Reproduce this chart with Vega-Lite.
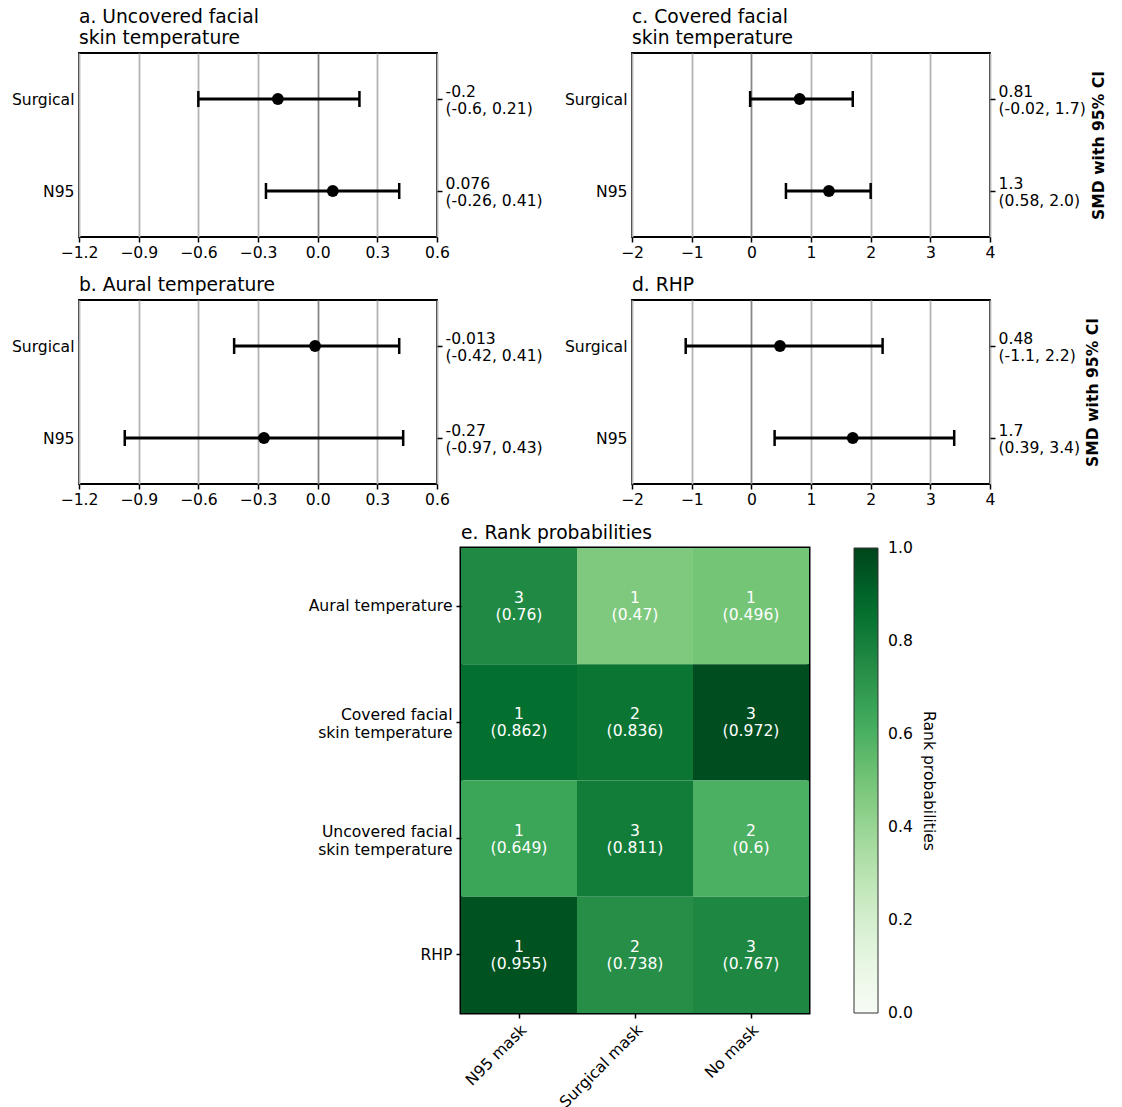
{
  "$schema": "https://vega.github.io/schema/vega-lite/v6.json",
  "padding": {"left": 10, "top": 7, "right": 5, "bottom": 0},
  "background": "white",
  "datasets": {
    "forest": [
      {"panel": "a", "mask": "Surgical", "smd": -0.2, "lo": -0.6, "hi": 0.21, "rlabel": "-0.2\n(-0.6, 0.21)"},
      {"panel": "a", "mask": "N95", "smd": 0.076, "lo": -0.26, "hi": 0.41, "rlabel": "0.076\n(-0.26, 0.41)"},
      {"panel": "b", "mask": "Surgical", "smd": -0.013, "lo": -0.42, "hi": 0.41, "rlabel": "-0.013\n(-0.42, 0.41)"},
      {"panel": "b", "mask": "N95", "smd": -0.27, "lo": -0.97, "hi": 0.43, "rlabel": "-0.27\n(-0.97, 0.43)"},
      {"panel": "c", "mask": "Surgical", "smd": 0.81, "lo": -0.02, "hi": 1.7, "rlabel": "0.81\n(-0.02, 1.7)"},
      {"panel": "c", "mask": "N95", "smd": 1.3, "lo": 0.58, "hi": 2.0, "rlabel": "1.3\n(0.58, 2.0)"},
      {"panel": "d", "mask": "Surgical", "smd": 0.48, "lo": -1.1, "hi": 2.2, "rlabel": "0.48\n(-1.1, 2.2)"},
      {"panel": "d", "mask": "N95", "smd": 1.7, "lo": 0.39, "hi": 3.4, "rlabel": "1.7\n(0.39, 3.4)"}
    ],
    "ranks": [
      {"outcome": "Aural temperature", "mask": "N95 mask", "rank": 3, "prob": 0.76},
      {"outcome": "Aural temperature", "mask": "Surgical mask", "rank": 1, "prob": 0.47},
      {"outcome": "Aural temperature", "mask": "No mask", "rank": 1, "prob": 0.496},
      {"outcome": "Covered facial\nskin temperature", "mask": "N95 mask", "rank": 1, "prob": 0.862},
      {"outcome": "Covered facial\nskin temperature", "mask": "Surgical mask", "rank": 2, "prob": 0.836},
      {"outcome": "Covered facial\nskin temperature", "mask": "No mask", "rank": 3, "prob": 0.972},
      {"outcome": "Uncovered facial\nskin temperature", "mask": "N95 mask", "rank": 1, "prob": 0.649},
      {"outcome": "Uncovered facial\nskin temperature", "mask": "Surgical mask", "rank": 3, "prob": 0.811},
      {"outcome": "Uncovered facial\nskin temperature", "mask": "No mask", "rank": 2, "prob": 0.6},
      {"outcome": "RHP", "mask": "N95 mask", "rank": 1, "prob": 0.955},
      {"outcome": "RHP", "mask": "Surgical mask", "rank": 2, "prob": 0.738},
      {"outcome": "RHP", "mask": "No mask", "rank": 3, "prob": 0.767}
    ]
  },
  "spacing": 13,
  "resolve": {"scale": {"color": "independent"}, "legend": {"color": "independent"}},
  "vconcat": [
    {
      "spacing": 19,
      "hconcat": [
        {
          "title": {"text": ["a. Uncovered facial", "skin temperature"], "frame": "group"},
          "width": 358, "height": 184,
          "data": {"name": "forest"},
          "transform": [{"filter": "datum.panel === 'a'"}],
          "layer": [
            {
              "encoding": {"y": {"field": "mask", "type": "nominal", "sort": ["Surgical", "N95"], "scale": {"type": "point", "padding": 0.5}, "axis": {"title": null, "ticks": false, "labelPadding": 5}}},
              "layer": [
                {"mark": {"type": "rule", "color": "black", "strokeWidth": 3}, "encoding": {"x": {"field": "lo", "type": "quantitative", "scale": {"domain": [-1.2, 0.6], "nice": false, "zero": false}, "axis": {"title": null, "values": [-1.2, -0.9, -0.6, -0.3, 0, 0.3, 0.6], "labelExpr": "replace(format(datum.value, '.1f'), '-', '−')", "grid": true}}, "x2": {"field": "hi"}}},
                {"mark": {"type": "tick", "color": "black", "thickness": 2.5, "size": 16, "opacity": 1}, "encoding": {"x": {"field": "lo", "type": "quantitative", "scale": {"domain": [-1.2, 0.6], "nice": false, "zero": false}, "axis": {"title": null, "values": [-1.2, -0.9, -0.6, -0.3, 0, 0.3, 0.6], "labelExpr": "replace(format(datum.value, '.1f'), '-', '−')", "grid": true}}}},
                {"mark": {"type": "tick", "color": "black", "thickness": 2.5, "size": 16, "opacity": 1}, "encoding": {"x": {"field": "hi", "type": "quantitative", "scale": {"domain": [-1.2, 0.6], "nice": false, "zero": false}, "axis": {"title": null, "values": [-1.2, -0.9, -0.6, -0.3, 0, 0.3, 0.6], "labelExpr": "replace(format(datum.value, '.1f'), '-', '−')", "grid": true}}}},
                {"mark": {"type": "point", "filled": true, "color": "black", "size": 140, "opacity": 1}, "encoding": {"x": {"field": "smd", "type": "quantitative", "scale": {"domain": [-1.2, 0.6], "nice": false, "zero": false}, "axis": {"title": null, "values": [-1.2, -0.9, -0.6, -0.3, 0, 0.3, 0.6], "labelExpr": "replace(format(datum.value, '.1f'), '-', '−')", "grid": true}}}}
              ]
            },
            {
              "mark": {"type": "tick", "opacity": 0},
              "encoding": {
                "x": {"field": "smd", "type": "quantitative", "scale": {"domain": [-1.2, 0.6], "nice": false, "zero": false}, "axis": {"title": null, "values": [-1.2, -0.9, -0.6, -0.3, 0, 0.3, 0.6], "labelExpr": "replace(format(datum.value, '.1f'), '-', '−')", "grid": true}},
                "y": {"field": "rlabel", "type": "nominal", "sort": null, "scale": {"type": "point", "padding": 0.5}, "axis": {"orient": "right", "title": null, "labelExpr": "split(datum.value, '\\n')", "labelAlign": "left", "labelBaseline": "middle", "labelLineHeight": 17, "labelOffset": -8, "labelPadding": 3}}
              }
            }
          ],
          "resolve": {"scale": {"y": "independent"}}
        },
        {
          "title": {"text": ["c. Covered facial", "skin temperature"], "frame": "group"},
          "width": 358, "height": 184,
          "data": {"name": "forest"},
          "transform": [{"filter": "datum.panel === 'c'"}],
          "layer": [
            {
              "encoding": {"y": {"field": "mask", "type": "nominal", "sort": ["Surgical", "N95"], "scale": {"type": "point", "padding": 0.5}, "axis": {"title": null, "ticks": false, "labelPadding": 5}}},
              "layer": [
                {"mark": {"type": "rule", "color": "black", "strokeWidth": 3}, "encoding": {"x": {"field": "lo", "type": "quantitative", "scale": {"domain": [-2, 4], "nice": false, "zero": false}, "axis": {"title": null, "values": [-2, -1, 0, 1, 2, 3, 4], "labelExpr": "replace(format(datum.value, 'd'), '-', '−')", "grid": true}}, "x2": {"field": "hi"}}},
                {"mark": {"type": "tick", "color": "black", "thickness": 2.5, "size": 16, "opacity": 1}, "encoding": {"x": {"field": "lo", "type": "quantitative", "scale": {"domain": [-2, 4], "nice": false, "zero": false}, "axis": {"title": null, "values": [-2, -1, 0, 1, 2, 3, 4], "labelExpr": "replace(format(datum.value, 'd'), '-', '−')", "grid": true}}}},
                {"mark": {"type": "tick", "color": "black", "thickness": 2.5, "size": 16, "opacity": 1}, "encoding": {"x": {"field": "hi", "type": "quantitative", "scale": {"domain": [-2, 4], "nice": false, "zero": false}, "axis": {"title": null, "values": [-2, -1, 0, 1, 2, 3, 4], "labelExpr": "replace(format(datum.value, 'd'), '-', '−')", "grid": true}}}},
                {"mark": {"type": "point", "filled": true, "color": "black", "size": 140, "opacity": 1}, "encoding": {"x": {"field": "smd", "type": "quantitative", "scale": {"domain": [-2, 4], "nice": false, "zero": false}, "axis": {"title": null, "values": [-2, -1, 0, 1, 2, 3, 4], "labelExpr": "replace(format(datum.value, 'd'), '-', '−')", "grid": true}}}}
              ]
            },
            {
              "mark": {"type": "tick", "opacity": 0},
              "encoding": {
                "x": {"field": "smd", "type": "quantitative", "scale": {"domain": [-2, 4], "nice": false, "zero": false}, "axis": {"title": null, "values": [-2, -1, 0, 1, 2, 3, 4], "labelExpr": "replace(format(datum.value, 'd'), '-', '−')", "grid": true}},
                "y": {"field": "rlabel", "type": "nominal", "sort": null, "scale": {"type": "point", "padding": 0.5}, "axis": {"orient": "right", "title": "SMD with 95% CI", "titleAngle": -90, "titleBaseline": "top", "titleFontWeight": "bold", "titlePadding": 6, "labelExpr": "split(datum.value, '\\n')", "labelAlign": "left", "labelBaseline": "middle", "labelLineHeight": 17, "labelOffset": -8, "labelPadding": 3}}
              }
            }
          ],
          "resolve": {"scale": {"y": "independent"}}
        }
      ]
    },
    {
      "spacing": 19,
      "hconcat": [
        {
          "title": {"text": "b. Aural temperature", "frame": "group"},
          "width": 358, "height": 184,
          "data": {"name": "forest"},
          "transform": [{"filter": "datum.panel === 'b'"}],
          "layer": [
            {
              "encoding": {"y": {"field": "mask", "type": "nominal", "sort": ["Surgical", "N95"], "scale": {"type": "point", "padding": 0.5}, "axis": {"title": null, "ticks": false, "labelPadding": 5}}},
              "layer": [
                {"mark": {"type": "rule", "color": "black", "strokeWidth": 3}, "encoding": {"x": {"field": "lo", "type": "quantitative", "scale": {"domain": [-1.2, 0.6], "nice": false, "zero": false}, "axis": {"title": null, "values": [-1.2, -0.9, -0.6, -0.3, 0, 0.3, 0.6], "labelExpr": "replace(format(datum.value, '.1f'), '-', '−')", "grid": true}}, "x2": {"field": "hi"}}},
                {"mark": {"type": "tick", "color": "black", "thickness": 2.5, "size": 16, "opacity": 1}, "encoding": {"x": {"field": "lo", "type": "quantitative", "scale": {"domain": [-1.2, 0.6], "nice": false, "zero": false}, "axis": {"title": null, "values": [-1.2, -0.9, -0.6, -0.3, 0, 0.3, 0.6], "labelExpr": "replace(format(datum.value, '.1f'), '-', '−')", "grid": true}}}},
                {"mark": {"type": "tick", "color": "black", "thickness": 2.5, "size": 16, "opacity": 1}, "encoding": {"x": {"field": "hi", "type": "quantitative", "scale": {"domain": [-1.2, 0.6], "nice": false, "zero": false}, "axis": {"title": null, "values": [-1.2, -0.9, -0.6, -0.3, 0, 0.3, 0.6], "labelExpr": "replace(format(datum.value, '.1f'), '-', '−')", "grid": true}}}},
                {"mark": {"type": "point", "filled": true, "color": "black", "size": 140, "opacity": 1}, "encoding": {"x": {"field": "smd", "type": "quantitative", "scale": {"domain": [-1.2, 0.6], "nice": false, "zero": false}, "axis": {"title": null, "values": [-1.2, -0.9, -0.6, -0.3, 0, 0.3, 0.6], "labelExpr": "replace(format(datum.value, '.1f'), '-', '−')", "grid": true}}}}
              ]
            },
            {
              "mark": {"type": "tick", "opacity": 0},
              "encoding": {
                "x": {"field": "smd", "type": "quantitative", "scale": {"domain": [-1.2, 0.6], "nice": false, "zero": false}, "axis": {"title": null, "values": [-1.2, -0.9, -0.6, -0.3, 0, 0.3, 0.6], "labelExpr": "replace(format(datum.value, '.1f'), '-', '−')", "grid": true}},
                "y": {"field": "rlabel", "type": "nominal", "sort": null, "scale": {"type": "point", "padding": 0.5}, "axis": {"orient": "right", "title": null, "labelExpr": "split(datum.value, '\\n')", "labelAlign": "left", "labelBaseline": "middle", "labelLineHeight": 17, "labelOffset": -8, "labelPadding": 3}}
              }
            }
          ],
          "resolve": {"scale": {"y": "independent"}}
        },
        {
          "title": {"text": "d. RHP", "frame": "group"},
          "width": 358, "height": 184,
          "data": {"name": "forest"},
          "transform": [{"filter": "datum.panel === 'd'"}],
          "layer": [
            {
              "encoding": {"y": {"field": "mask", "type": "nominal", "sort": ["Surgical", "N95"], "scale": {"type": "point", "padding": 0.5}, "axis": {"title": null, "ticks": false, "labelPadding": 5}}},
              "layer": [
                {"mark": {"type": "rule", "color": "black", "strokeWidth": 3}, "encoding": {"x": {"field": "lo", "type": "quantitative", "scale": {"domain": [-2, 4], "nice": false, "zero": false}, "axis": {"title": null, "values": [-2, -1, 0, 1, 2, 3, 4], "labelExpr": "replace(format(datum.value, 'd'), '-', '−')", "grid": true}}, "x2": {"field": "hi"}}},
                {"mark": {"type": "tick", "color": "black", "thickness": 2.5, "size": 16, "opacity": 1}, "encoding": {"x": {"field": "lo", "type": "quantitative", "scale": {"domain": [-2, 4], "nice": false, "zero": false}, "axis": {"title": null, "values": [-2, -1, 0, 1, 2, 3, 4], "labelExpr": "replace(format(datum.value, 'd'), '-', '−')", "grid": true}}}},
                {"mark": {"type": "tick", "color": "black", "thickness": 2.5, "size": 16, "opacity": 1}, "encoding": {"x": {"field": "hi", "type": "quantitative", "scale": {"domain": [-2, 4], "nice": false, "zero": false}, "axis": {"title": null, "values": [-2, -1, 0, 1, 2, 3, 4], "labelExpr": "replace(format(datum.value, 'd'), '-', '−')", "grid": true}}}},
                {"mark": {"type": "point", "filled": true, "color": "black", "size": 140, "opacity": 1}, "encoding": {"x": {"field": "smd", "type": "quantitative", "scale": {"domain": [-2, 4], "nice": false, "zero": false}, "axis": {"title": null, "values": [-2, -1, 0, 1, 2, 3, 4], "labelExpr": "replace(format(datum.value, 'd'), '-', '−')", "grid": true}}}}
              ]
            },
            {
              "mark": {"type": "tick", "opacity": 0},
              "encoding": {
                "x": {"field": "smd", "type": "quantitative", "scale": {"domain": [-2, 4], "nice": false, "zero": false}, "axis": {"title": null, "values": [-2, -1, 0, 1, 2, 3, 4], "labelExpr": "replace(format(datum.value, 'd'), '-', '−')", "grid": true}},
                "y": {"field": "rlabel", "type": "nominal", "sort": null, "scale": {"type": "point", "padding": 0.5}, "axis": {"orient": "right", "title": "SMD with 95% CI", "titleAngle": -90, "titleBaseline": "top", "titleFontWeight": "bold", "titlePadding": 6, "labelExpr": "split(datum.value, '\\n')", "labelAlign": "left", "labelBaseline": "middle", "labelLineHeight": 17, "labelOffset": -8, "labelPadding": 3}}
              }
            }
          ],
          "resolve": {"scale": {"y": "independent"}}
        }
      ]
    },
    {
      "spacing": 0,
      "resolve": {"scale": {"color": "independent"}, "legend": {"color": "independent"}},
      "hconcat": [
        {
          "width": 227, "height": 1,
          "data": {"values": []},
          "mark": {"type": "point", "opacity": 0},
          "view": {"stroke": null}
        },
        {
          "title": {"text": "e. Rank probabilities", "frame": "group"},
          "width": 348, "height": 465,
          "view": {"stroke": "black", "strokeWidth": 3},
          "data": {"name": "ranks"},
          "transform": [{"calculate": "datum.rank + '\\n(' + datum.prob + ')'", "as": "cell"}],
          "encoding": {
            "x": {"field": "mask", "type": "nominal", "sort": ["N95 mask", "Surgical mask", "No mask"], "scale": {"paddingInner": 0, "paddingOuter": 0}, "axis": {"title": null, "labelAngle": -45, "labelAlign": "right", "labelBaseline": "top", "labelPadding": 4}},
            "y": {"field": "outcome", "type": "nominal", "sort": ["Aural temperature", "Covered facial\nskin temperature", "Uncovered facial\nskin temperature", "RHP"], "scale": {"paddingInner": 0, "paddingOuter": 0}, "axis": {"title": null, "labelExpr": "split(datum.value, '\\n')", "labelLineHeight": 18, "labelPadding": 4, "labelOffset": {"condition": {"test": "indexof(datum.value, '\\n') >= 0", "value": -7}, "value": 0}}}
          },
          "layer": [
            {
              "mark": {"type": "rect"},
              "encoding": {
                "color": {"field": "prob", "type": "quantitative",
                  "scale": {"domain": [0, 0.125, 0.25, 0.375, 0.5, 0.625, 0.75, 0.875, 1], "range": ["#f7fcf5", "#e5f5e0", "#c7e9c0", "#a1d99b", "#74c476", "#41ab5d", "#238b45", "#006d2c", "#00441b"], "interpolate": "rgb"},
                  "legend": {"title": "Rank probabilities", "orient": "right", "direction": "vertical", "gradientLength": 465, "gradientThickness": 24, "values": [0, 0.2, 0.4, 0.6, 0.8, 1.0], "format": ".1f", "titleOrient": "right", "titleAngle": 90, "titleAnchor": "middle", "titleFontWeight": "normal", "titleFontSize": 15.6, "titleColor": "black", "titleFont": "DejaVu Sans", "titlePadding": 8, "labelFontSize": 15.6, "labelFont": "DejaVu Sans", "labelColor": "black", "labelOffset": 10, "labelBaseline": "middle", "labelOverlap": false, "gradientStrokeColor": "#333", "gradientStrokeWidth": 1, "offset": 45, "padding": 0,
                    "encode": {"labels": {"update": {"baseline": {"value": "middle"}}}}}}
              }
            },
            {
              "mark": {"type": "text", "color": "white", "lineBreak": "\n", "fontSize": 15.6, "lineHeight": 17, "dy": -8, "font": "DejaVu Sans"},
              "encoding": {"text": {"field": "cell"}}
            }
          ]
        }
      ]
    }
  ],
  "config": {
    "font": "DejaVu Sans",
    "view": {"stroke": "black", "strokeWidth": 1.8},
    "title": {"font": "DejaVu Sans", "fontSize": 18.7, "fontWeight": "normal", "anchor": "start", "color": "black", "lineHeight": 21, "offset": 5},
    "axis": {"labelFont": "DejaVu Sans", "labelFontSize": 15.6, "labelColor": "black", "labelFlush": false, "tickColor": "black", "tickSize": 5, "tickWidth": 1.5, "domain": false, "grid": false, "labelPadding": 3, "titleFont": "DejaVu Sans", "titleFontSize": 15.6, "titleColor": "black", "gridWidth": 1.8, "gridColor": {"condition": {"test": "abs(datum.value) < 1e-9", "value": "#888888"}, "value": "#b4b4b4"}}
  }
}
